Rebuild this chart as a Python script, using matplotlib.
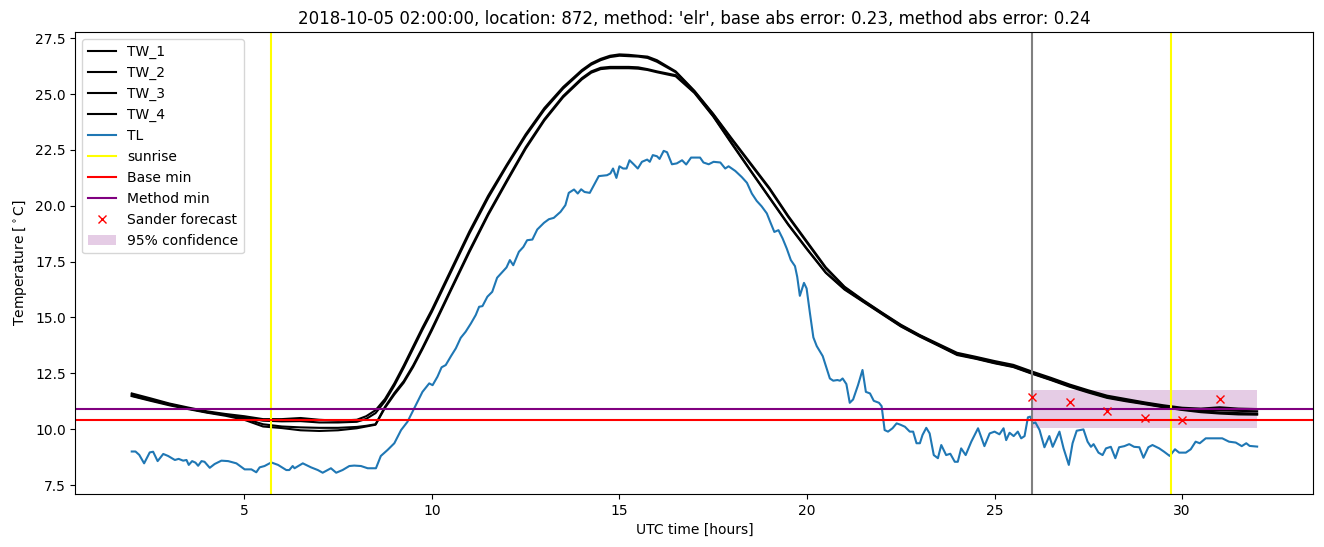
import matplotlib
matplotlib.use("Agg")
import matplotlib.pyplot as plt

TITLE = "2018-10-05 02:00:00, location: 872, method: 'elr', base abs error: 0.23, method abs error: 0.24"

TW_HOURS = [2.0, 2.5, 3.0, 3.5, 4.0, 4.5, 5.0, 5.5, 6.0, 6.5, 7.0, 7.5, 8.0,
            8.25, 8.5, 8.75, 9.0, 9.25, 9.5, 9.75, 10.0,
            10.5, 11.0, 11.5, 12.0, 12.5, 13.0, 13.5, 14.0,
            14.25, 14.5, 14.75, 15.0, 15.25, 15.5, 15.75, 16.0,
            16.5, 17.0, 17.5, 18.0, 18.5, 19.0, 19.5, 20.0, 20.5, 21.0, 21.5,
            22.0, 22.5, 23.0, 23.5, 24.0, 24.5, 25.0, 25.5, 26.0, 26.5, 27.0,
            27.5, 28.0, 28.5, 29.0, 29.5, 30.0, 30.5, 31.0, 31.5, 32.0]

TW_1 = [11.6, 11.38, 11.15, 10.97, 10.8, 10.68, 10.58, 10.45, 10.45, 10.5, 10.42, 10.38, 10.42,
        10.58, 10.85, 11.35, 12.05, 12.85, 13.7, 14.55, 15.35,
        17.1, 18.85, 20.45, 21.85, 23.2, 24.38, 25.32, 26.08,
        26.38, 26.58, 26.72, 26.78, 26.76, 26.72, 26.68, 26.52,
        26.02, 25.15, 24.12, 23.0, 21.9, 20.8, 19.55, 18.4, 17.25, 16.38, 15.78,
        15.22, 14.68, 14.22, 13.82, 13.42, 13.24, 13.05, 12.88, 12.58, 12.3, 12.0,
        11.74, 11.5, 11.35, 11.2, 11.07, 10.96, 10.92, 10.98, 10.92, 10.9]

TW_2 = [11.55, 11.33, 11.12, 10.93, 10.76, 10.64, 10.52, 10.38, 10.35, 10.36, 10.3, 10.3, 10.33,
        10.46, 10.72, 11.25, 11.95, 12.75, 13.6, 14.45, 15.25,
        17.0, 18.75, 20.35, 21.78, 23.12, 24.3, 25.25, 26.02,
        26.32, 26.52, 26.66, 26.72, 26.7, 26.68, 26.62, 26.45,
        25.98, 25.12, 24.1, 22.95, 21.85, 20.75, 19.5, 18.35, 17.2, 16.35, 15.75,
        15.2, 14.65, 14.2, 13.78, 13.38, 13.2, 13.0, 12.83, 12.53, 12.25, 11.96,
        11.7, 11.46, 11.31, 11.17, 11.03, 10.92, 10.86, 10.85, 10.82, 10.8]

TW_3 = [11.5, 11.3, 11.1, 10.92, 10.77, 10.64, 10.48, 10.22, 10.12, 10.08, 10.06, 10.06, 10.1,
        10.15, 10.22, 11.0, 11.62, 12.15, 12.85, 13.65, 14.5,
        16.25, 18.0, 19.65, 21.15, 22.62, 23.88, 24.92, 25.72,
        26.02, 26.18, 26.22, 26.22, 26.22, 26.2, 26.12, 26.02,
        25.85, 25.08, 24.02, 22.8, 21.58, 20.38, 19.18, 18.08, 17.02, 16.28, 15.72,
        15.17, 14.62, 14.17, 13.76, 13.35, 13.17, 12.97, 12.8, 12.5, 12.22, 11.93,
        11.67, 11.43, 11.28, 11.14, 11.0, 10.88, 10.8, 10.75, 10.72, 10.7]

TW_4 = [11.48, 11.27, 11.07, 10.9, 10.74, 10.6, 10.42, 10.12, 10.05, 9.95, 9.92, 9.95, 10.04,
        10.12, 10.2, 10.95, 11.55, 12.08, 12.78, 13.58, 14.42,
        16.18, 17.92, 19.58, 21.08, 22.55, 23.82, 24.86, 25.66,
        25.96, 26.12, 26.16, 26.16, 26.16, 26.14, 26.08, 25.98,
        25.8, 25.05, 24.0, 22.76, 21.55, 20.35, 19.15, 18.05, 17.0, 16.25, 15.7,
        15.15, 14.6, 14.15, 13.74, 13.32, 13.15, 12.95, 12.78, 12.48, 12.2, 11.9,
        11.64, 11.4, 11.25, 11.12, 10.98, 10.86, 10.76, 10.7, 10.66, 10.65]

TL_HOURS = [2.0, 2.1, 2.2, 2.33, 2.48, 2.57, 2.69, 2.84, 2.97, 3.15, 3.25, 3.37, 3.46, 3.52,
            3.61, 3.70, 3.77, 3.86, 3.94, 4.08, 4.21, 4.39, 4.57, 4.79, 5.01, 5.19, 5.32,
            5.41, 5.54, 5.72, 5.90, 6.12, 6.20, 6.29, 6.34, 6.56, 6.78, 6.96, 7.09, 7.31,
            7.45, 7.62, 7.80, 7.93, 8.11, 8.29, 8.51, 8.64, 8.82, 9.00, 9.18, 9.35, 9.53,
            9.75, 9.93, 10.02, 10.15, 10.26, 10.37, 10.51, 10.64, 10.77, 10.90, 11.04,
            11.17, 11.26, 11.35, 11.48, 11.61, 11.74, 11.88, 11.99, 12.08, 12.17, 12.32,
            12.44, 12.54, 12.68, 12.81, 12.99, 13.12, 13.25, 13.43, 13.56, 13.65, 13.79,
            13.89, 13.98, 14.07, 14.21, 14.32, 14.45, 14.67, 14.76, 14.83, 14.92, 15.00,
            15.10, 15.19, 15.27, 15.38, 15.49, 15.60, 15.74, 15.81, 15.89, 16.00, 16.07,
            16.18, 16.27, 16.40, 16.53, 16.67, 16.78, 16.91, 17.15, 17.24, 17.38, 17.51,
            17.69, 17.82, 17.91, 18.09, 18.26, 18.40, 18.53, 18.66, 18.79, 18.93, 19.02,
            19.13, 19.24, 19.35, 19.46, 19.57, 19.68, 19.74, 19.81, 19.92, 19.99, 20.08,
            20.17, 20.26, 20.42, 20.51, 20.61, 20.70, 20.81, 20.88, 20.95, 21.05, 21.14,
            21.23, 21.36, 21.48, 21.57, 21.68, 21.78, 21.92, 21.99, 22.07, 22.16, 22.28,
            22.39, 22.49, 22.61, 22.74, 22.83, 22.92, 23.01, 23.08, 23.18, 23.27, 23.38,
            23.49, 23.58, 23.71, 23.82, 23.94, 24.02, 24.11, 24.23, 24.38, 24.56, 24.73,
            24.87, 25.00, 25.13, 25.24, 25.31, 25.40, 25.51, 25.62, 25.71, 25.80, 25.89,
            25.95, 26.02, 26.09, 26.20, 26.33, 26.46, 26.55, 26.73, 26.84, 26.98, 27.08,
            27.19, 27.37, 27.48, 27.57, 27.64, 27.77, 27.88, 27.97, 28.10, 28.22, 28.32,
            28.46, 28.59, 28.72, 28.86, 28.97, 29.10, 29.21, 29.39, 29.52, 29.67, 29.81,
            29.92, 30.10, 30.23, 30.36, 30.47, 30.63, 30.81, 31.07, 31.25, 31.43, 31.59,
            31.71, 31.80, 32.00]

TL_VALUES = [9.0, 9.0, 8.85, 8.47, 8.96, 8.99, 8.57, 8.89, 8.80, 8.62, 8.67, 8.59, 8.62, 8.40,
             8.57, 8.50, 8.36, 8.57, 8.54, 8.27, 8.44, 8.59, 8.57, 8.47, 8.20, 8.20, 8.07,
             8.29, 8.35, 8.51, 8.40, 8.17, 8.17, 8.35, 8.25, 8.47, 8.29, 8.17, 8.05, 8.25,
             8.05, 8.17, 8.35, 8.37, 8.35, 8.25, 8.25, 8.80, 9.07, 9.37, 9.96, 10.33, 10.93,
             11.67, 12.05, 11.97, 12.35, 12.77, 12.87, 13.27, 13.62, 14.09, 14.36, 14.73,
             15.11, 15.48, 15.51, 15.93, 16.15, 16.78, 17.04, 17.24, 17.57, 17.34, 17.94,
             18.16, 18.46, 18.49, 18.94, 19.24, 19.40, 19.46, 19.73, 20.03, 20.58, 20.73,
             20.55, 20.74, 20.62, 20.58, 20.92, 21.33, 21.37, 21.45, 21.67, 21.25, 21.77,
             21.67, 21.67, 22.04, 21.86, 21.67, 21.97, 22.07, 21.97, 22.27, 22.22, 22.10,
             22.46, 22.40, 21.86, 21.90, 22.04, 21.85, 22.16, 22.16, 21.94, 21.86, 21.97,
             21.94, 21.67, 21.77, 21.56, 21.29, 21.03, 20.55, 20.22, 19.98, 19.66, 19.28,
             18.83, 18.91, 18.54, 18.09, 17.57, 17.30, 16.82, 15.97, 16.55, 16.30, 15.18,
             14.11, 13.72, 13.27, 12.79, 12.27, 12.17, 12.20, 12.17, 12.27, 12.02, 11.18,
             11.33, 11.97, 12.65, 11.67, 11.60, 11.27, 11.18, 11.03, 9.96, 9.89, 10.04,
             10.26, 10.20, 10.11, 9.89, 9.89, 9.37, 9.37, 9.74, 10.06, 9.81, 8.84,
             8.70, 9.29, 8.84, 8.90, 8.54, 8.54, 9.14, 8.84, 9.44, 10.04, 9.24,
             9.81, 9.89, 9.77, 10.04, 9.51, 9.84, 9.69, 9.89, 9.59, 9.69, 10.53,
             10.56, 10.26, 10.30, 9.96, 9.19, 9.69, 9.21, 9.89, 9.14, 8.40, 9.37,
             9.93, 9.99, 9.44, 9.21, 9.33, 8.95, 8.84, 9.14, 9.21, 8.70, 9.19,
             9.24, 9.33, 9.21, 9.19, 8.72, 9.19, 9.29, 9.14, 8.99, 8.80, 9.10,
             8.95, 8.95, 9.10, 9.44, 9.37, 9.59, 9.59, 9.59, 9.44, 9.40, 9.24,
             9.37, 9.25, 9.22]

SUNRISE_HOURS = [5.70, 29.70]
FORECAST_START = 26.0
BASE_MIN = 10.40
METHOD_MIN = 10.90

SANDER_HOURS = [26, 27, 28, 29, 30, 31]
SANDER_VALUES = [11.42, 11.20, 10.80, 10.52, 10.40, 11.36]

CONF_HOURS = [26.0, 32.0]
CONF_LOW = [10.05, 10.05]
CONF_HIGH = [11.75, 11.75]

fig = plt.figure(figsize=(13.24, 5.47), dpi=100)
ax = fig.add_subplot(111)
fig.subplots_adjust(left=0.057, right=0.992, top=0.941, bottom=0.097)

for name, vals in [("TW_1", TW_1), ("TW_2", TW_2), ("TW_3", TW_3), ("TW_4", TW_4)]:
    ax.plot(TW_HOURS, vals, color="black", label=name)
ax.plot(TL_HOURS, TL_VALUES, color="C0", label="TL")
for i, h in enumerate(SUNRISE_HOURS):
    ax.axvline(h, color="yellow", label="sunrise" if i == 0 else None)
ax.axvline(FORECAST_START, color="gray")
ax.axhline(BASE_MIN, color="red", label="Base min")
ax.axhline(METHOD_MIN, color="purple", label="Method min")
ax.plot(SANDER_HOURS, SANDER_VALUES, "x", color="red", linestyle="none", label="Sander forecast")
ax.fill_between(CONF_HOURS, CONF_LOW, CONF_HIGH, color="purple", alpha=0.2, linewidth=0,
                label="95% confidence")

ax.set_xlim(0.5, 33.5)
ax.set_ylim(7.1, 27.77)
ax.set_title(TITLE)
ax.set_xlabel("UTC time [hours]")
ax.set_ylabel(r"Temperature [$^\circ$C]")
ax.legend(loc="upper left")

fig.savefig("out.png", dpi=100)
